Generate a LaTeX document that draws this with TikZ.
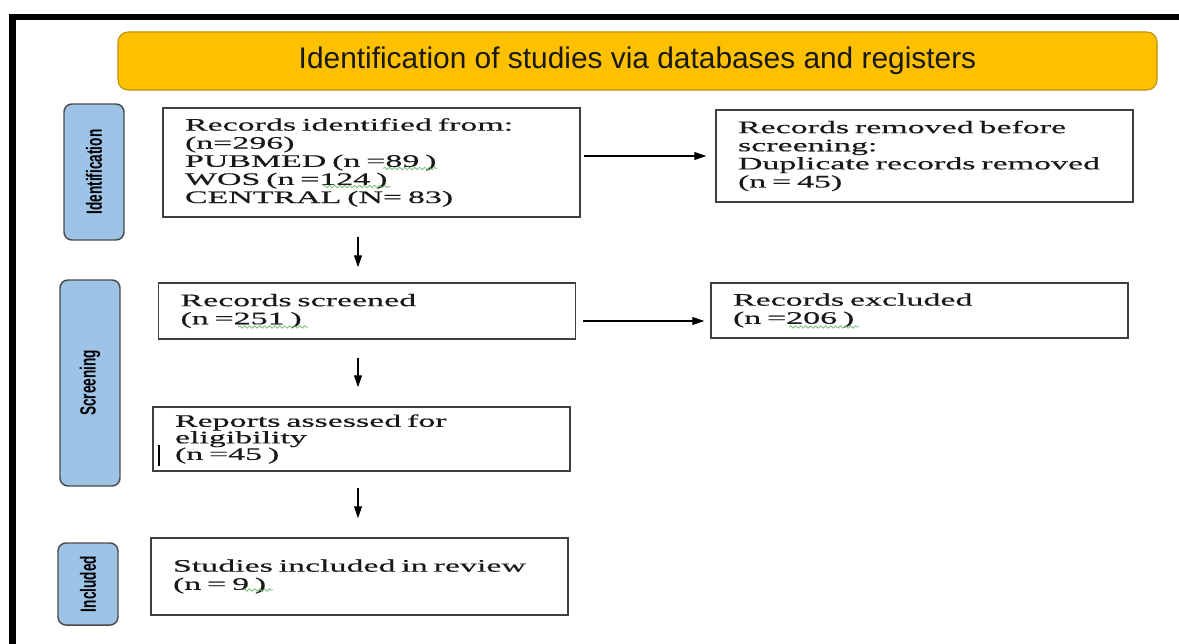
\documentclass[tikz,border=0pt]{standalone}
\usepackage{fontspec}
\usepackage{xcolor}
\usepackage{tikz}
\usetikzlibrary{arrows.meta,positioning,calc,decorations.pathmorphing}
\setmainfont{Liberation Serif}
\newfontfamily\boxfont{Liberation Serif}[FakeStretch=1.93,FakeBold=0.5]
\newfontfamily\bannerfont{Liberation Sans}
\newfontfamily\phasefont{Liberation Sans}[FakeStretch=0.62]
\definecolor{bannergold}{HTML}{FFC000}
\definecolor{bannerline}{HTML}{BF9000}
\definecolor{phaseblue}{HTML}{9DC3E6}
\definecolor{squiggreen}{HTML}{6AB56A}

\begin{document}
\begin{tikzpicture}[
		recbox/.style={draw=black!75, line width=0.85pt, rectangle, text width=7.46cm, inner xsep=0.44cm, inner ysep=0.05cm, align=left, font=\boxfont\fontsize{10pt}{10.3pt}\selectfont, text=black!90},
		phasebox/.style={draw=black!70, line width=0.85pt, rounded corners=0.16cm, fill=phaseblue, minimum height=1.2cm, rotate=90, font=\phasefont\bfseries\fontsize{12.5pt}{14pt}\selectfont},
		arr/.style={line width=0.6pt, -{Triangle[length=2.4mm,width=1.6mm]}},
		squig/.style={squiggreen, line width=0.4pt, decorate, decoration={snake, amplitude=0.25mm, segment length=1mm}}
	]
		\useasboundingbox (0,0) rectangle (23.58,-12.88);

		% frame edges
		\fill (0.18,-0.28) rectangle (23.58,-0.40);
		\fill (0.18,-0.28) rectangle (0.31,-12.88);

		\node[draw=bannerline, line width=0.6pt, fill=bannergold, rounded corners=0.2cm, minimum width=20.78cm, minimum height=1.16cm, font=\bannerfont\fontsize{17pt}{20pt}\selectfont, text=black!90] (banner) at (12.75,-1.22) {Identification of studies via databases and registers};

		\node[phasebox, minimum width=2.72cm] (idphase) at (1.88,-3.44) {Identification};
		\node[phasebox, minimum width=4.12cm] (scrphase) at (1.80,-7.66) {Screening};
		\node[phasebox, minimum width=1.64cm] (incphase) at (1.76,-11.68) {Included};

		\node[recbox, minimum height=2.18cm] (identified) at (7.43,-3.25) {Records identified from:\\ (n=296)\\ PUBMED (n =89 )\\ WOS (n =124 )\\ CENTRAL (N= 83)};
		\node[recbox, minimum height=1.84cm] (removed) at (18.49,-3.12) {Records removed before\\ screening:\\ Duplicate records removed\\ (n = 45)};
		\node[recbox, minimum height=1.12cm] (screened) at (7.34,-6.22) {Records screened\\ (n =251 )};
		\node[recbox, minimum height=1.10cm] (excluded) at (18.39,-6.21) {Records excluded\\ (n =206 )};
		\node[recbox, minimum height=1.28cm, font=\boxfont\fontsize{10pt}{9.4pt}\selectfont] (reports) at (7.23,-8.78) {Reports assessed for\\ eligibility\\ (n =45 )};
		\node[recbox, minimum height=1.54cm] (included) at (7.19,-11.53) {Studies included in review\\ (n = 9 )};

		\coordinate (axis) at (7.16,0);

		\draw[arr, shorten <=0.06cm, shorten >=0.18cm] (identified.east |- removed.west) -- (removed.west);
		\draw[arr, shorten <=0.14cm, shorten >=0.12cm] ([yshift=-2mm]screened.east) -- ([yshift=-2mm]screened.east -| excluded.west);

		\draw[arr, shorten <=0.38cm, shorten >=0.30cm] (identified.south -| axis) -- (screened.north -| axis);
		\draw[arr, shorten <=0.36cm, shorten >=0.38cm] (screened.south -| axis) -- (reports.north -| axis);
		\draw[arr, shorten <=0.32cm, shorten >=0.38cm] (reports.south -| axis) -- (included.north -| axis);

		% spell-check marks
		\draw[squig] (7.66,-3.37) -- (8.74,-3.37);
		\draw[squig] (6.46,-3.73) -- (7.80,-3.73);
		\draw[squig] (4.76,-6.54) -- (6.16,-6.54);
		\draw[squig] (15.78,-6.54) -- (17.18,-6.54);
		\draw[squig] (4.86,-11.80) -- (5.46,-11.80);

		\draw[line width=1.4pt] (3.18,-8.90) -- (3.18,-9.32);
	\end{tikzpicture}
\end{document}
